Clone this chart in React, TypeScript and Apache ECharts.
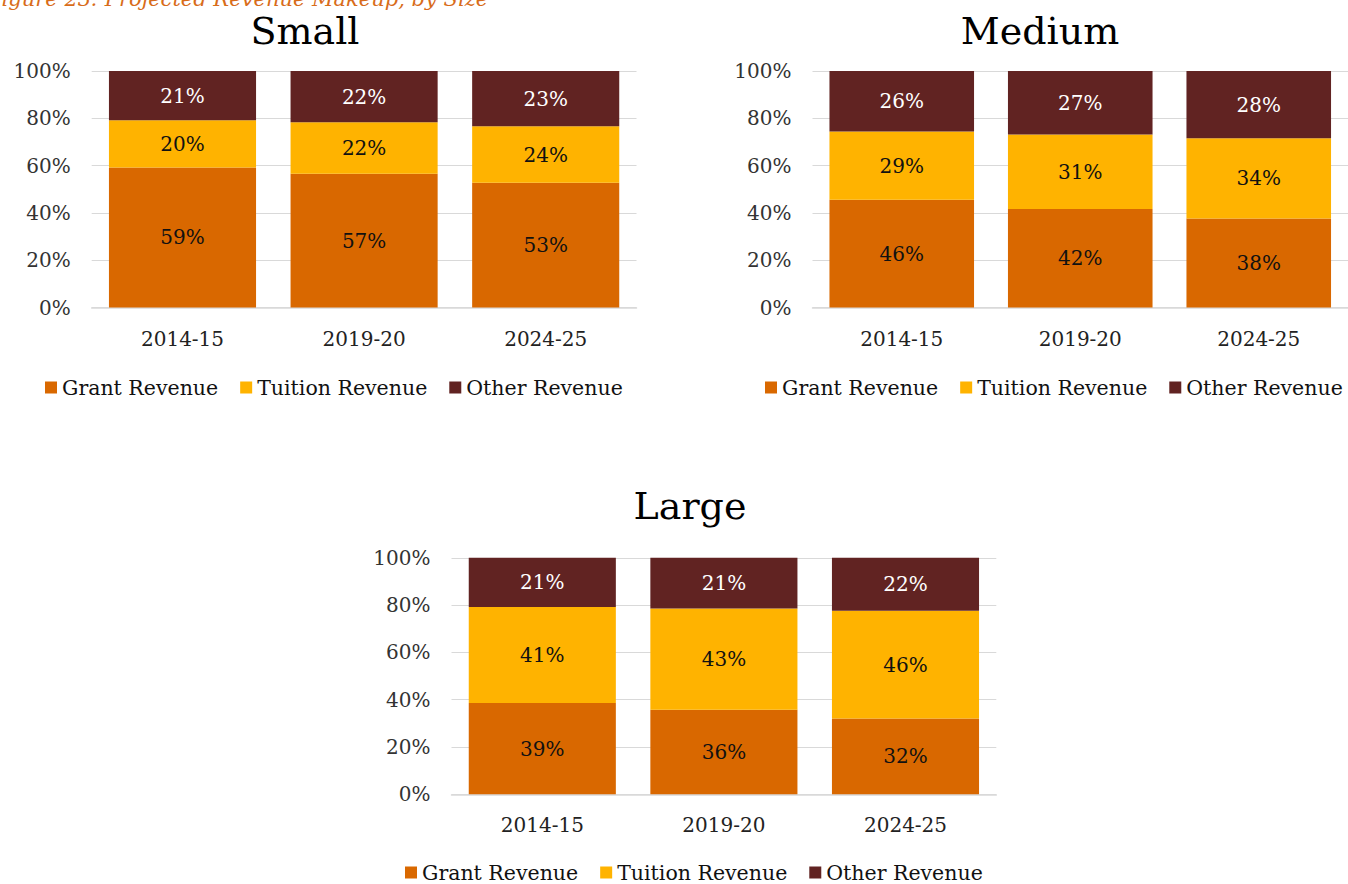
import React, { useEffect, useRef } from "react";
import * as echarts from "echarts";

const categories = ["2014-15", "2019-20", "2024-25"];
const seriesNames = ["Grant Revenue", "Tuition Revenue", "Other Revenue"];
const colors = ["#D96800", "#FFB300", "#612322"];
const labelColors = ["#111111", "#111111", "#FFFFFF"];
const yTicks = [0, 20, 40, 60, 80, 100];

const smallGrant = [59.2, 56.6, 52.7];
const smallTuition = [20.0, 21.7, 23.9];
const smallOther = [20.8, 21.7, 23.4];

const mediumGrant = [45.6, 41.7, 37.6];
const mediumTuition = [28.8, 31.4, 34.0];
const mediumOther = [25.6, 26.9, 28.4];

const largeGrant = [38.6, 35.8, 32.0];
const largeTuition = [40.6, 42.8, 45.6];
const largeOther = [20.8, 21.4, 22.4];

const panelTitles = ["Small", "Medium", "Large"];
const panelData = [
  [smallGrant, smallTuition, smallOther],
  [mediumGrant, mediumTuition, mediumOther],
  [largeGrant, largeTuition, largeOther],
];
const figureCaption = "Figure 23: Projected Revenue Makeup, by Size";

const FONT = "'DejaVu Serif', Georgia, serif";

// layout (pixels)
const grids = [
  { left: 91.7, top: 71, width: 544.8, height: 236.5 },
  { left: 812.5, top: 71, width: 544.8, height: 236.5 },
  { left: 451.5, top: 557.8, width: 544.8, height: 236.5 },
];
const titlePos = [
  { x: 305, y: 31 },
  { x: 1040, y: 31 },
  { x: 690, y: 506 },
];
const legendPos = [
  { left: 45, top: 377 },
  { left: 765, top: 377 },
  { left: 405, top: 862 },
];

export default function App() {
  const ref = useRef<HTMLDivElement>(null);

  useEffect(() => {
    if (!ref.current) return;
    const chart = echarts.init(ref.current, null, { renderer: "svg" });

    const series: any[] = [];
    panelData.forEach((group, gi) => {
      group.forEach((vals, si) => {
        series.push({
          name: seriesNames[si],
          type: "bar",
          xAxisIndex: gi,
          yAxisIndex: gi,
          stack: "total" + gi,
          barCategoryGap: "19%",
          data: vals,
          itemStyle: { color: colors[si] },
          label: {
            show: true,
            position: "inside",
            color: labelColors[si],
            fontFamily: FONT,
            fontSize: 20,
            formatter: (p: any) => Math.round(p.value) + "%",
          },
        });
      });
    });

    const option: any = {
      animation: false,
      backgroundColor: "#ffffff",
      grid: grids.map((g) => ({ ...g, containLabel: false })),
      xAxis: grids.map((_, i) => ({
        type: "category",
        gridIndex: i,
        data: categories,
        axisLine: { show: true, lineStyle: { color: "#d9d9d9", width: 1.5 } },
        axisTick: { show: false },
        axisLabel: {
          color: "#222222",
          fontFamily: FONT,
          fontSize: 20,
          lineHeight: 20,
          margin: 21,
        },
      })),
      yAxis: grids.map((_, i) => ({
        type: "value",
        gridIndex: i,
        min: 0,
        max: 100,
        interval: 20,
        axisLine: { show: false },
        axisTick: { show: false },
        splitLine: { show: true, lineStyle: { color: "#d9d9d9", width: 1 } },
        axisLabel: {
          color: "#333333",
          fontFamily: FONT,
          fontSize: 20,
          margin: 21,
          formatter: (v: number) => (yTicks.includes(v) ? v + "%" : ""),
        },
      })),
      legend: legendPos.map((lp) => ({
        left: lp.left,
        top: lp.top,
        width: 640,
        padding: 0,
        orient: "horizontal",
        data: seriesNames,
        icon: "rect",
        itemWidth: 12,
        itemHeight: 12,
        itemGap: 22,
        selectedMode: false,
        textStyle: { color: "#111111", fontFamily: FONT, fontSize: 20.5 },
      })),
      graphic: [
        ...panelTitles.map((t, i) => ({
          type: "text",
          x: titlePos[i].x,
          y: titlePos[i].y,
          style: {
            text: t,
            font: "38px " + FONT,
            fill: "#000000",
            align: "center",
            verticalAlign: "middle",
          },
        })),
        {
          type: "text",
          x: -13,
          y: 9,
          style: {
            text: figureCaption,
            font: "italic 21px " + FONT,
            fill: "#D86C1A",
            align: "left",
            verticalAlign: "bottom",
          },
        },
      ],
      series,
    };

    chart.setOption(option);
    return () => chart.dispose();
  }, []);

  return (
    <div
      ref={ref}
      style={{ position: "fixed", left: 0, top: 0, width: 1348, height: 884, background: "#fff" }}
    />
  );
}
